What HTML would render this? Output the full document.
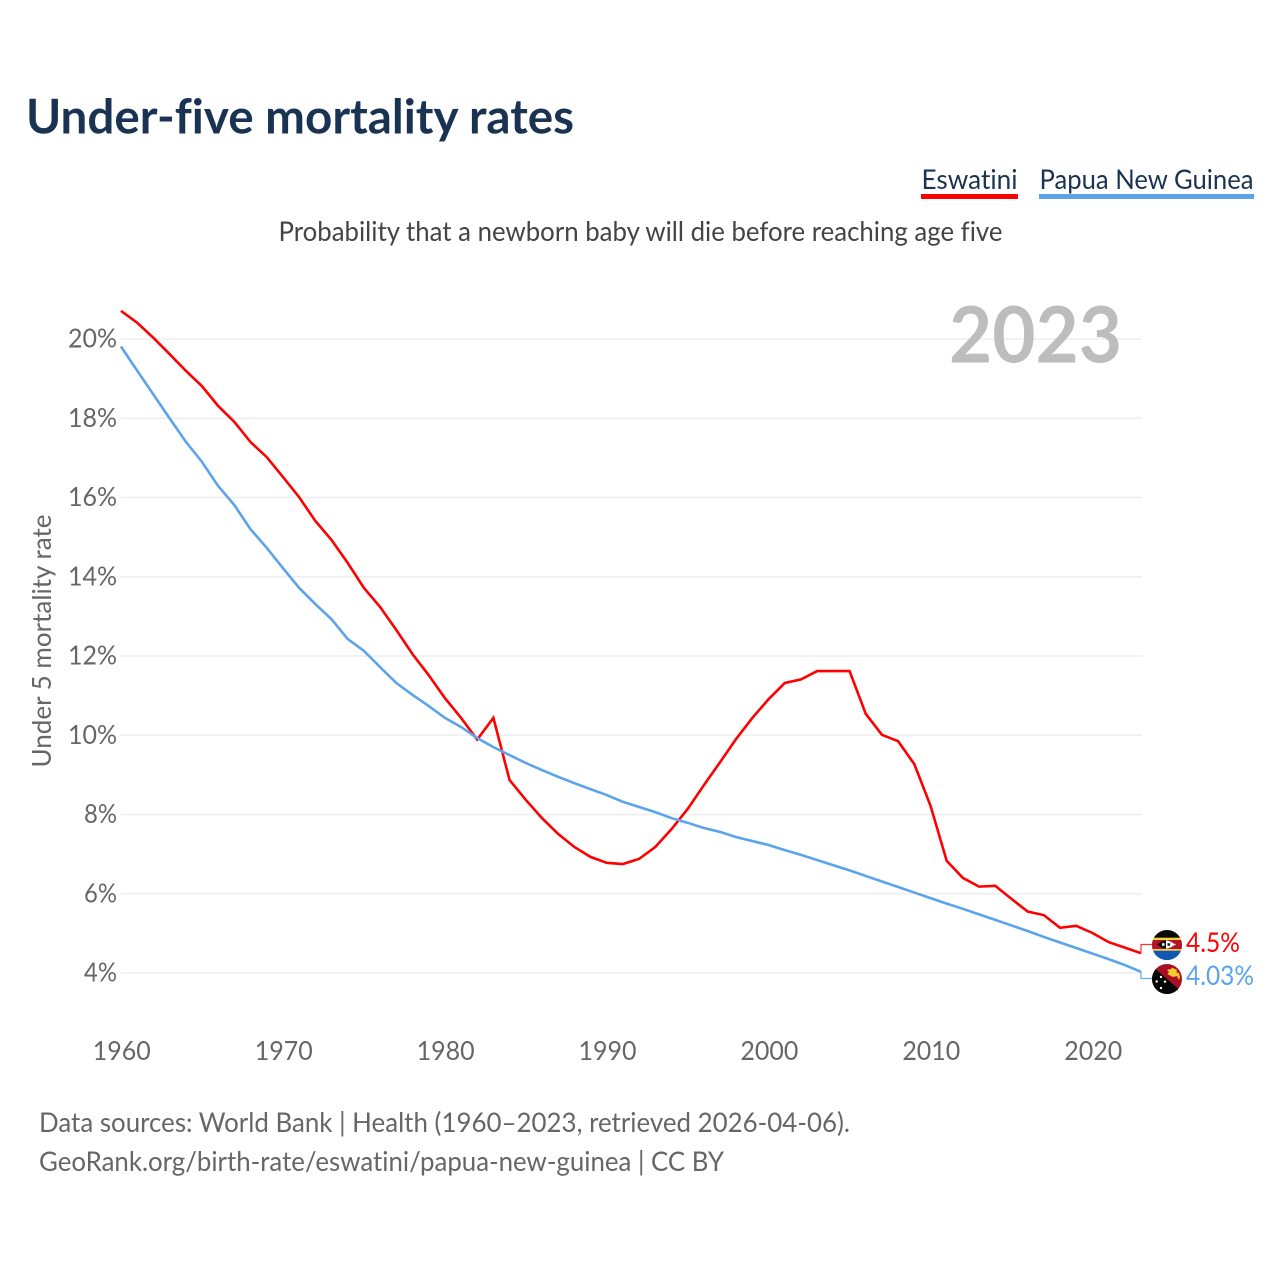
<!DOCTYPE html>
<html lang="en">
<head>
<meta charset="utf-8">
<title>Under-five mortality rates</title>
<style>
html,body{margin:0;padding:0;background:#fff;width:1280px;height:1280px;overflow:hidden}
svg{display:block}
text{font-family:"Lato","Carlito","Liberation Sans",sans-serif;font-variant-ligatures:none;font-feature-settings:"liga" 0,"clig" 0}
</style>
</head>
<body>
<svg id="chart" xmlns="http://www.w3.org/2000/svg" width="1280" height="1280" viewBox="0 0 1280 1280">
  <defs>
    <clipPath id="flag-clip-a"><circle cx="1167" cy="945" r="15"/></clipPath>
    <clipPath id="flag-clip-b"><circle cx="1167" cy="979" r="15"/></clipPath>
  </defs>
  <rect width="1280" height="1280" fill="#fff"/>
  <text x="26" y="133.5" font-size="47.5" font-weight="700" fill="#1a3353" textLength="548" lengthAdjust="spacingAndGlyphs">Under-five mortality rates</text>

  <g>
    <text x="921.5" y="189" font-size="27" fill="#1a3353" textLength="96" lengthAdjust="spacingAndGlyphs">Eswatini</text>
    <rect x="921" y="194" width="97" height="5" fill="#ff0000"/>
  </g>
  <g>
    <text x="1039.5" y="189" font-size="27" fill="#1a3353" textLength="214" lengthAdjust="spacingAndGlyphs">Papua New Guinea</text>
    <rect x="1039" y="194" width="215" height="5" fill="#5ba4ec"/>
  </g>

  <text x="278.5" y="241" font-size="27" fill="#444" textLength="724" lengthAdjust="spacingAndGlyphs">Probability that a newborn baby will die before reaching age five</text>

  <g id="grid"></g>
  <g id="yticks"></g>
  <g id="xticks"></g>

  <text transform="translate(51,641) rotate(-90)" text-anchor="middle" font-size="26" fill="#666" textLength="253" lengthAdjust="spacingAndGlyphs">Under 5 mortality rate</text>
  <text x="1122" y="362.5" text-anchor="end" font-size="78" font-weight="700" fill="#bdbdbd" textLength="173" lengthAdjust="spacingAndGlyphs">2023</text>

  <g id="series"></g>

  <g clip-path="url(#flag-clip-a)">
    <rect x="1152" y="930" width="30" height="30" fill="#0a0a0a"/>
    <rect x="1152" y="950" width="30" height="10" fill="#1257b5"/>
    <rect x="1152" y="937.7" width="30" height="13" fill="#f5d33f"/>
    <rect x="1152" y="940" width="30" height="9" fill="#b3142c"/>
    <rect x="1158" y="943.8" width="18" height="1.4" fill="#e8a13a"/>
    <path d="M1157 944.5 Q1161 941 1166 940.2 L1166 948.8 Q1161 948 1157 944.5Z" fill="#111"/>
    <path d="M1166 940.2 Q1171 941 1175 944.5 Q1171 948 1166 948.8Z" fill="#fff"/>
    <rect x="1167.5" y="943.2" width="2.6" height="2.6" fill="#222"/>
    <rect x="1162" y="943.2" width="2.6" height="2.6" fill="#eee"/>
  </g>
  <g clip-path="url(#flag-clip-b)">
    <rect x="1152" y="964" width="30" height="30" fill="#a90f24"/>
    <path d="M1152 966 L1182 992 L1182 996 L1152 996Z" fill="#050505"/>
    <path d="M1167 970 L1171 969 L1172 967.5 L1175 969 L1177 970 L1176.5 972.5 L1179 973 L1180 977 L1179 980 L1177 976 L1173 977 L1170 975.5 L1167.5 974 L1169 972Z" fill="#f7c92f"/>
    <circle cx="1161" cy="977" r="1.2" fill="#fff"/>
    <circle cx="1156.7" cy="981.5" r="1.2" fill="#fff"/>
    <circle cx="1165" cy="981.7" r="1.2" fill="#fff"/>
    <circle cx="1161" cy="988" r="1.2" fill="#fff"/>
  </g>

  <text id="label-eswatini" x="1186" y="952" font-size="27" fill="#ff0000" textLength="54" lengthAdjust="spacingAndGlyphs">4.5%</text>
  <text id="label-png" x="1186" y="985" font-size="27" fill="#5ba4ec" textLength="68" lengthAdjust="spacingAndGlyphs">4.03%</text>

  <text x="39" y="1132" font-size="27" fill="#666" textLength="811" lengthAdjust="spacingAndGlyphs">Data sources: World Bank | Health (1960–2023, retrieved 2026-04-06).</text>
  <text x="39" y="1171" font-size="27" fill="#666" textLength="685" lengthAdjust="spacingAndGlyphs">GeoRank.org/birth-rate/eswatini/papua-new-guinea | CC BY</text>
</svg>
<script>
const years = [1960,1961,1962,1963,1964,1965,1966,1967,1968,1969,1970,1971,1972,1973,1974,1975,1976,1977,1978,1979,1980,1981,1982,1983,1984,1985,1986,1987,1988,1989,1990,1991,1992,1993,1994,1995,1996,1997,1998,1999,2000,2001,2002,2003,2004,2005,2006,2007,2008,2009,2010,2011,2012,2013,2014,2015,2016,2017,2018,2019,2020,2021,2022,2023];
const eswatiniValues = [20.71,20.41,20.03,19.62,19.2,18.81,18.31,17.91,17.4,17.02,16.52,16.01,15.41,14.93,14.35,13.72,13.24,12.66,12.05,11.52,10.94,10.44,9.89,10.44,8.87,8.37,7.91,7.51,7.18,6.93,6.78,6.75,6.88,7.18,7.63,8.14,8.74,9.32,9.91,10.44,10.91,11.32,11.41,11.62,11.62,11.62,10.54,10.01,9.85,9.27,8.22,6.83,6.4,6.18,6.2,5.87,5.55,5.46,5.14,5.19,5.01,4.78,4.64,4.5];
const papuaValues = [19.81,19.2,18.6,18.0,17.41,16.9,16.29,15.81,15.2,14.73,14.22,13.72,13.31,12.93,12.43,12.13,11.72,11.32,11.02,10.74,10.44,10.21,9.93,9.7,9.5,9.3,9.12,8.95,8.79,8.64,8.49,8.32,8.19,8.06,7.91,7.79,7.66,7.56,7.43,7.33,7.23,7.1,6.98,6.85,6.72,6.59,6.45,6.31,6.17,6.03,5.89,5.75,5.62,5.48,5.34,5.2,5.06,4.91,4.77,4.63,4.49,4.35,4.2,4.03];
const yTickValues = [4,6,8,10,12,14,16,18,20];
const xTickValues = [1960,1970,1980,1990,2000,2010,2020];

const NS = 'http://www.w3.org/2000/svg';
function xScale(year) { return 121 + (year - 1960) * (1141 - 121) / 63; }
function yScale(value) { return 973 - (value - 4) * (973 - 339) / 16; }
function make(tag, attrs, parent) {
  const el = document.createElementNS(NS, tag);
  for (const k in attrs) el.setAttribute(k, attrs[k]);
  parent.appendChild(el);
  return el;
}

const gridGroup = document.getElementById('grid');
const yTickGroup = document.getElementById('yticks');
const xTickGroup = document.getElementById('xticks');
const seriesGroup = document.getElementById('series');

yTickValues.forEach(function (v) {
  const line = make('line', {x1: 121, x2: 1142, y1: yScale(v), y2: yScale(v), stroke: '#eeeeee', 'stroke-width': 1.5}, gridGroup);
  
  
  const label = make('text', {x: 117, y: yScale(v) + 8.5, 'text-anchor': 'end', 'font-size': 26, fill: '#666', textLength: v >= 10 ? 49 : 33, lengthAdjust: 'spacingAndGlyphs'}, yTickGroup);
  
  
  label.textContent = v + '%';
});

xTickValues.forEach(function (y) {
  const label = make('text', {x: xScale(y) + 0.8, y: 1060, 'text-anchor': 'middle', 'font-size': 26, fill: '#666', textLength: 58, lengthAdjust: 'spacingAndGlyphs'}, xTickGroup);
  
  
  label.textContent = y;
});

function linePath(values) {
  return values.map(function (v, i) {
    return (i ? 'L' : 'M') + xScale(years[i]).toFixed(2) + ' ' + yScale(v).toFixed(2);
  }).join(' ');
}

const eswatiniLine = make('path', {d: linePath(eswatiniValues), fill: 'none', stroke: '#ff0000', 'stroke-width': 2.6, 'stroke-linejoin': 'miter'}, seriesGroup);



const papuaLine = make('path', {d: linePath(papuaValues), fill: 'none', stroke: '#5ba4ec', 'stroke-width': 2.6, 'stroke-linejoin': 'miter'}, seriesGroup);



const lastIndex = years.length - 1;
const endX = xScale(years[lastIndex]);
const eswatiniConnector = make('path', {d: 'M' + endX + ' ' + yScale(eswatiniValues[lastIndex]) + ' V944.5 H1152', fill: 'none', stroke: '#ff0000', 'stroke-width': 1.2, opacity: 0.8}, seriesGroup);



const papuaConnector = make('path', {d: 'M' + endX + ' ' + yScale(papuaValues[lastIndex]) + ' V978.5 H1152', fill: 'none', stroke: '#5ba4ec', 'stroke-width': 1.2, opacity: 0.9}, seriesGroup);



document.getElementById('label-eswatini').textContent = eswatiniValues[lastIndex] + '%';
document.getElementById('label-png').textContent = papuaValues[lastIndex] + '%';
</script>
</body>
</html>
